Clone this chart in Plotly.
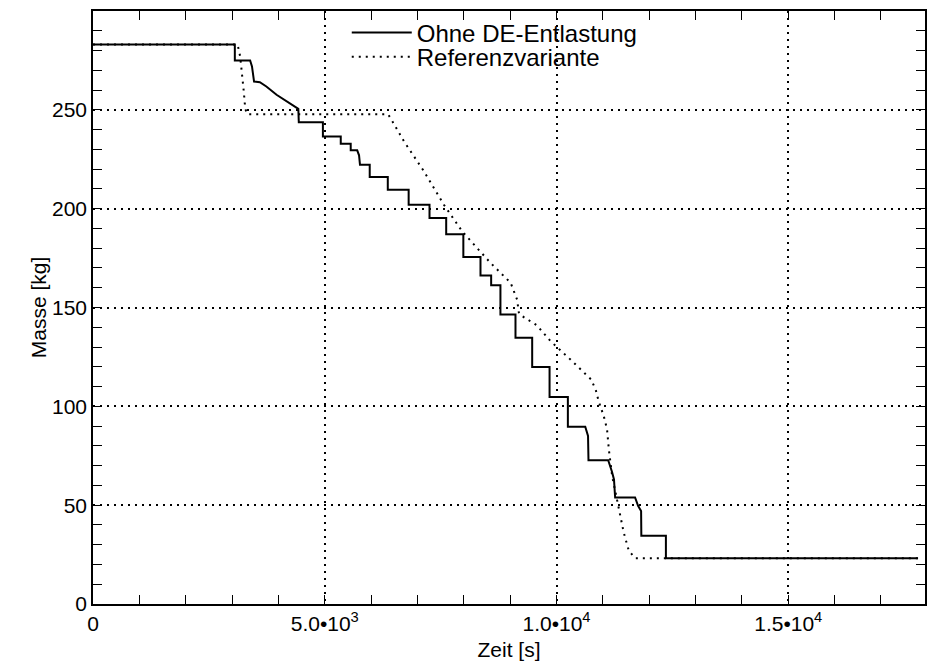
import plotly.graph_objects as go

# ---- data ----
t_ohne = [0, 3060, 3060, 3390, 3430, 3460, 3475, 3600, 3740, 3960, 4175, 4430,
          4440, 4960, 4960, 5345, 5345, 5560, 5560, 5700, 5740, 5760, 5970, 5970,
          6360, 6360, 6810, 6810, 7260, 7260, 7620, 7620, 7990, 7990, 8360, 8360,
          8590, 8590, 8790, 8790, 9115, 9115, 9475, 9475, 9850, 9850, 10245, 10245,
          10620, 10680, 10690, 11115, 11195, 11240, 11265, 11695, 11760, 11825, 11830,
          12360, 12360, 17800]
m_ohne = [283, 283, 275, 275, 272, 268, 264.3, 264, 261.8, 257.6, 254.2, 250.5,
          243.7, 243.7, 236.5, 236.5, 232.8, 232.8, 229.5, 229.5, 227, 222.2, 222.2, 216,
          216, 209.6, 209.6, 202, 202, 195.3, 195.3, 187, 187, 175.6, 175.6, 166.2,
          166.2, 161.3, 161.3, 146.5, 146.5, 134.7, 134.7, 119.9, 119.9, 104.7, 104.7, 89.7,
          89.7, 85, 72.7, 72.7, 67, 63, 53.9, 53.9, 49.7, 47, 34.5,
          34.5, 23.1, 23.1]

t_ref = [0, 3120, 3175, 3210, 3250, 3285, 3330, 6365, 6420, 6710, 7140, 7570, 7965,
         8290, 8575, 9010, 9150, 9190, 9300, 9575, 9870, 10300, 10750, 10850, 10910,
         11020, 11090, 11130, 11150, 11200, 11340, 11450, 11560, 11700, 17800]
m_ref = [283, 283, 277, 270, 260, 250.5, 247.8, 247.8, 245.8, 234, 218.9, 202, 188.5,
         180, 172.6, 162.5, 154, 147, 145, 141, 133, 123.7, 113.5, 108, 102.5,
         95, 88.4, 78, 73.2, 64.8, 48.8, 36.2, 26.9, 23.1, 23.1]

series_names = ["Ohne DE-Entlastung", "Referenzvariante"]
x_tickvals = [0, 5000, 10000, 15000]
x_ticktext = ["0", "5.0•10<sup>3</sup>", "1.0•10<sup>4</sup>", "1.5•10<sup>4</sup>"]
y_tickvals = [0, 50, 100, 150, 200, 250, 300]
x_title = "Zeit [s]"
y_title = "Masse [kg]"

FONT = "Liberation Sans, Arial, Helvetica, sans-serif"

fig = go.Figure()
fig.add_trace(go.Scatter(x=t_ohne, y=m_ohne, mode="lines", name=series_names[0],
                         line=dict(color="black", width=2), legend="legend"))
fig.add_trace(go.Scatter(x=t_ref, y=m_ref, mode="lines", name=series_names[1],
                         line=dict(color="black", width=2, dash="2px,5px"), legend="legend2"))

axis_common = dict(
    showline=True, linecolor="black", linewidth=1.5, mirror="allticks",
    ticks="inside", ticklen=9, tickwidth=1.2, tickcolor="black",
    showgrid=True, gridcolor="black", gridwidth=1.5, griddash="2px,5px",
    zeroline=False,
    tickfont=dict(family=FONT, size=21, color="black"),
    title_font=dict(family=FONT, size=21, color="black"),
)

fig.update_xaxes(range=[0, 17950], tickmode="array", tickvals=x_tickvals, ticktext=x_ticktext,
                 minor=dict(dtick=1000, ticks="inside", ticklen=9, tickwidth=1.2,
                            tickcolor="black", showgrid=False),
                 title_text=x_title, title_standoff=8, **axis_common)
fig.update_yaxes(range=[0, 300], tickmode="array", tickvals=y_tickvals,
                 minor=dict(dtick=10, ticks="inside", ticklen=9, tickwidth=1.2,
                            tickcolor="black", showgrid=False),
                 title_text=y_title, title_standoff=0, **axis_common)

legend_style = dict(xanchor="left", yanchor="middle", bgcolor="rgba(0,0,0,0)",
                    borderwidth=0, itemwidth=60,
                    font=dict(family=FONT, size=24, color="black"))

fig.update_layout(
    width=928, height=668,
    margin=dict(l=93, r=3, t=11, b=64, autoexpand=False),
    paper_bgcolor="white", plot_bgcolor="white",
    font=dict(family=FONT, size=21, color="black"),
    legend=dict(x=0.305, y=0.963, **legend_style),
    legend2=dict(x=0.305, y=0.922, **legend_style),
    showlegend=True,
)

fig.write_html("out.html", config={"displayModeBar": False},
               post_script="document.body.style.margin='0';")
